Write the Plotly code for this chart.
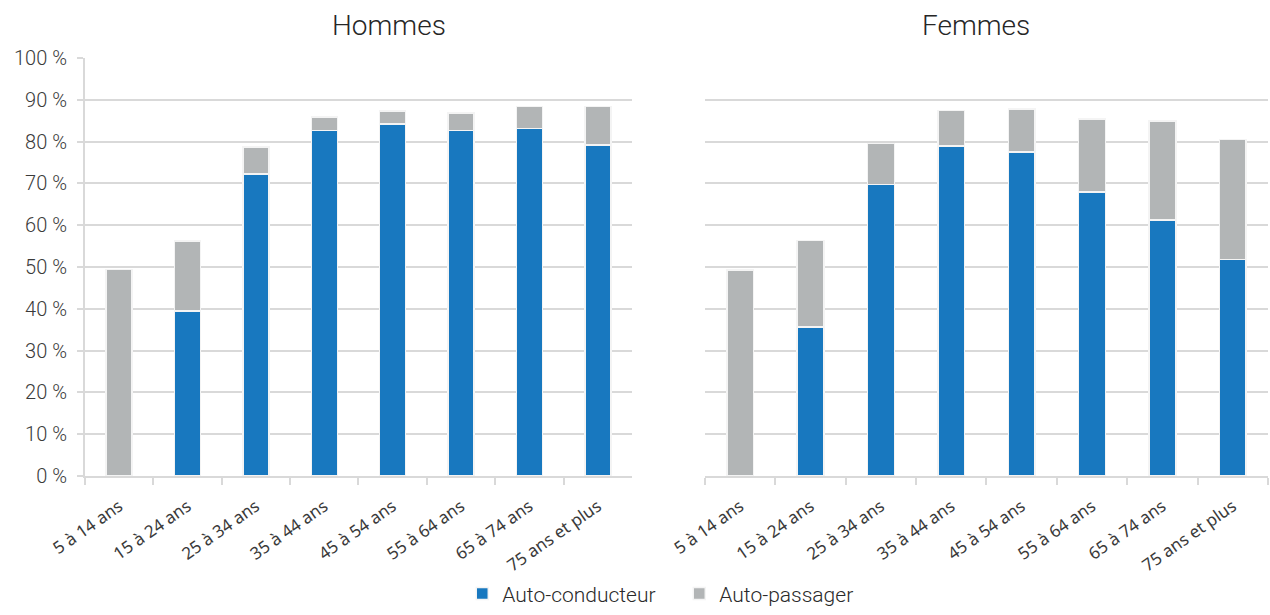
import plotly.graph_objects as go
from plotly.subplots import make_subplots

age_groups = ['5 à 14 ans', '15 à 24 ans', '25 à 34 ans', '35 à 44 ans',
              '45 à 54 ans', '55 à 64 ans', '65 à 74 ans', '75 ans et plus']

# Parts modales (%) - conducteur / passager
hommes_conducteur = [0.0, 39.5, 72.3, 82.7, 84.2, 82.7, 83.1, 79.2]
hommes_passager = [49.4, 16.7, 6.4, 3.2, 3.1, 4.2, 5.3, 9.2]
femmes_conducteur = [0.0, 35.6, 69.7, 78.9, 77.5, 68.0, 61.3, 51.8]
femmes_passager = [49.3, 20.8, 9.8, 8.5, 10.3, 17.4, 23.6, 28.7]

BLUE = '#1878BF'
GREY = '#B2B5B6'
TEXT = '#3A3A3A'
GRID = '#D9D9D9'
FONT = 'Roboto'

fig = make_subplots(rows=1, cols=2, subplot_titles=('Hommes', 'Femmes'))

for col, (cond, pas) in enumerate([(hommes_conducteur, hommes_passager),
                                    (femmes_conducteur, femmes_passager)], start=1):
  fig.add_trace(go.Bar(x=age_groups, y=cond, name='Auto-conducteur',
                       marker=dict(color=BLUE, line=dict(color='#F4F4F4', width=1.5)),
                       width=0.38, showlegend=(col == 1)), row=1, col=col)
  fig.add_trace(go.Bar(x=age_groups, y=pas, name='Auto-passager',
                       marker=dict(color=GREY, line=dict(color='#F4F4F4', width=1.5)),
                       width=0.38, showlegend=(col == 1)), row=1, col=col)

fig.update_xaxes(tickangle=-35, tickson='boundaries', ticks='outside', ticklen=7,
                 tickcolor=GRID, tickwidth=2, showline=True, linecolor=GRID, linewidth=2,
                 ticklabelstandoff=12,
                 tickfont=dict(family='Noto Sans', size=17, color=TEXT), automargin=False)
fig.update_xaxes(domain=[0.0669, 0.4976], row=1, col=1)
fig.update_xaxes(domain=[0.5551, 0.9984], row=1, col=2)

fig.update_yaxes(range=[0, 100], dtick=10, showgrid=True, gridcolor=GRID, gridwidth=2,
                 zeroline=False, automargin=False)
fig.update_yaxes(ticksuffix=' %', ticks='outside', ticklen=6, tickcolor=GRID, tickwidth=2,
                 showline=True, linecolor=GRID, linewidth=2, ticklabelstandoff=6,
                 tickfont=dict(family=FONT, size=20, color=TEXT, weight=300), row=1, col=1)
fig.update_yaxes(showticklabels=False, row=1, col=2)

title_x = [0.3063, 0.7685]
for ann, tx in zip(fig.layout.annotations, title_x):
  ann.font = dict(family=FONT, size=28, color='#262626', weight=300)
  ann.x = tx
  ann.y = 1.078
  ann.yanchor = 'middle'

fig.update_layout(
  barmode='stack',
  width=1270, height=615,
  margin=dict(l=0, r=0, t=58, b=132),
  plot_bgcolor='white',
  paper_bgcolor='white',
  legend=dict(orientation='h', x=0.364, xanchor='left', y=-0.282, yanchor='middle',
              font=dict(family=FONT, size=21, color='#2A2A2A', weight=300),
              itemwidth=30, entrywidth=172, traceorder='normal'),
)

# drop the default body margin so the figure fills the window exactly
fig.write_html("out.html", config={'displayModeBar': False},
               post_script="document.body.style.margin='0';")
